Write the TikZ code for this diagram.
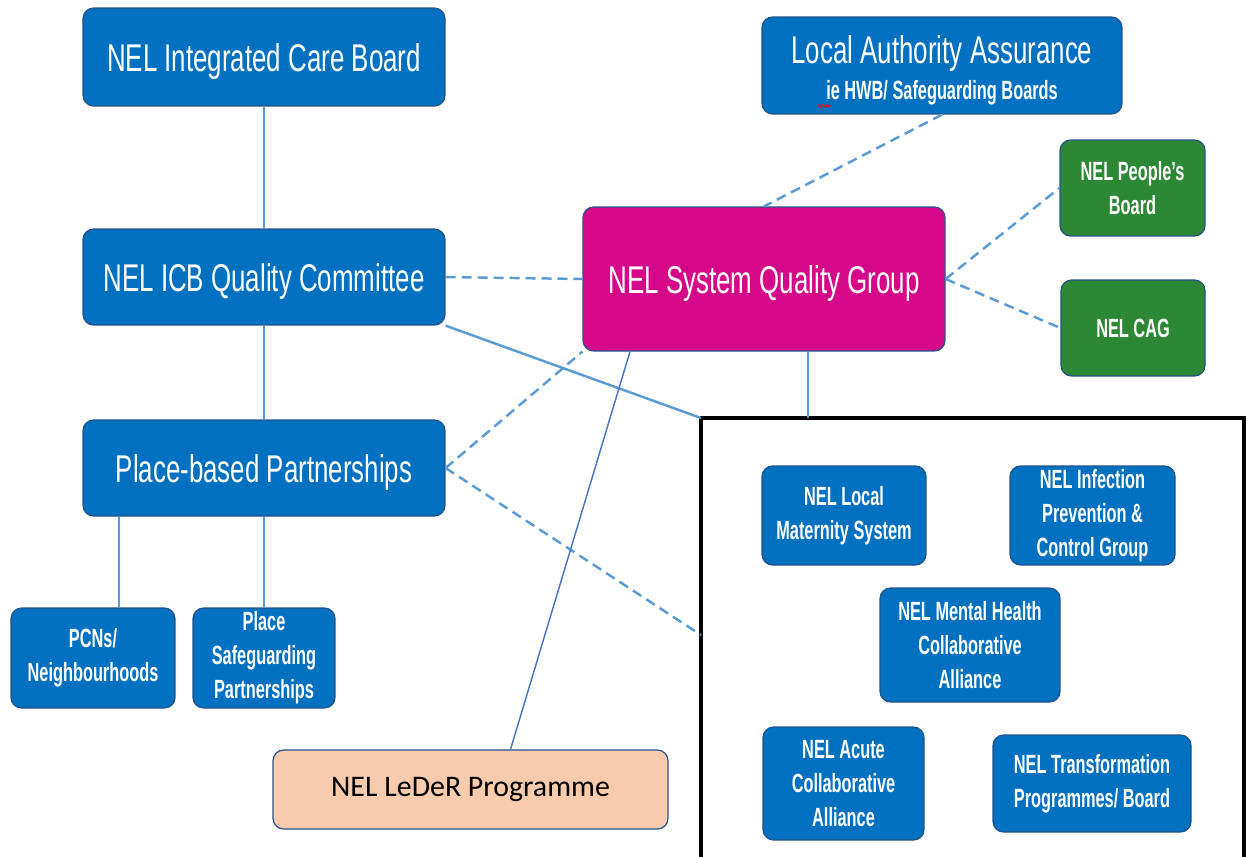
\documentclass[tikz,border=0pt]{standalone}
\usepackage{fontspec}
\setmainfont[FakeStretch=0.67, BoldFeatures={FakeStretch=0.62}]{Liberation Sans}
\newfontfamily\calibri{Carlito}
\usetikzlibrary{calc,decorations.pathmorphing}

\definecolor{boxblue}{RGB}{0,112,192}
\definecolor{boxedge}{RGB}{36,82,140}
\definecolor{sqmag}{RGB}{214,8,138}
\definecolor{boardgreen}{RGB}{44,136,52}
\definecolor{linkblue}{RGB}{91,155,213}
\definecolor{lederline}{RGB}{68,114,196}
\definecolor{lederfill}{RGB}{248,203,173}

\begin{document}
\begin{tikzpicture}[x=0.02cm,y=-0.02cm,
  box/.style={draw=boxedge, line width=0.7pt, rounded corners=6pt, fill=boxblue,
    text=white, align=center, inner sep=0pt},
  bigtext/.style={font=\fontsize{22}{25}\selectfont, text depth=0pt},
  smalltext/.style={font=\bfseries\fontsize{15}{19.3}\selectfont},
  link/.style={draw=linkblue, line width=0.9pt},
  heavylink/.style={draw=linkblue, line width=1.4pt},
  dlink/.style={draw=linkblue, line width=1.4pt, dash pattern=on 5.7pt off 3.4pt},
  lederlink/.style={draw=lederline, line width=0.8pt},
  groupframe/.style={draw=black, line width=1.8pt}
]
\clip (0,0) rectangle (1246,856);
\fill[white] (0,0) rectangle (1246,856);

% governance column
\node[box, bigtext, minimum width=7.24cm, minimum height=1.96cm] (icb) at (264,57) {NEL Integrated Care Board};
\node[box, bigtext, minimum width=7.24cm, minimum height=1.92cm] (qc) at (264,277) {NEL ICB Quality Committee};
\node[box, bigtext, minimum width=7.24cm, minimum height=1.92cm] (place) at (264,468) {Place-based Partnerships};
\node[box, smalltext, minimum width=3.28cm, minimum height=2.0cm] (pcn) at (93,658) {PCNs/\\Neighbourhoods};
\node[box, smalltext, minimum width=2.84cm, minimum height=2.0cm] (psg) at (264,658) {Place\\Safeguarding\\Partnerships};

% LeDeR programme
\node[draw=boxedge, line width=0.7pt, rounded corners=6pt, fill=lederfill, text=black,
  font=\calibri\fontsize{17}{20}\selectfont, minimum width=7.9cm, minimum height=1.58cm]
  (leder) at (470.5,789.5) {NEL LeDeR Programme};

% assurance and system group
\node[box, minimum width=7.2cm, minimum height=1.94cm] (laa) at (942,65.5) {};
\node[text=white, font=\fontsize{22}{25}\selectfont, anchor=base] (laat) at (942,63) {Local Authority Assurance};
\node[text=white, font=\bfseries\fontsize{15}{18}\selectfont, anchor=base] (laas) at (942,99) {ie HWB/ Safeguarding Boards};
\draw[red, line width=0.5pt, decorate, decoration={zigzag, segment length=2pt, amplitude=0.7pt}]
  (818,106) -- (831,106);

\node[box, bigtext, fill=sqmag, minimum width=7.24cm, minimum height=2.88cm] (sqg) at (764,279) {NEL System Quality Group};
\node[box, smalltext, fill=boardgreen, minimum width=2.9cm, minimum height=1.92cm] (people) at (1132.5,188) {NEL People's\\Board};
\node[box, smalltext, fill=boardgreen, minimum width=2.88cm, minimum height=1.92cm] (cag) at (1133,328) {NEL CAG};

% sub-groups frame
\coordinate (frameNW) at (701,418);
\coordinate (frameL) at (701,635);
\draw[groupframe] (frameNW) rectangle (1244,900);

\node[box, smalltext, minimum width=3.28cm, minimum height=1.98cm] (lms) at (844,515.5) {NEL Local\\Maternity System};
\node[box, smalltext, minimum width=3.3cm, minimum height=1.98cm] (ipc) at (1092.5,515.5) {NEL Infection\\Prevention \&\\Control Group};
\node[box, smalltext, minimum width=3.6cm, minimum height=2.28cm] (mh) at (970,645) {NEL Mental Health\\Collaborative\\Alliance};
\node[box, smalltext, minimum width=3.22cm, minimum height=2.26cm] (acute) at (843.5,783.5) {NEL Acute\\Collaborative\\Alliance};
\node[box, smalltext, minimum width=3.96cm, minimum height=1.94cm] (trans) at (1092,783.5) {NEL Transformation\\Programmes/ Board};

% attachment points that sit off the box centres
\coordinate (pcnTop) at ($(pcn.north)+(26,0)$);
\coordinate (sqgDown) at ($(sqg.south)+(44,0)$);
\coordinate (sqgLeft) at ($(sqg.south)+(-134,0)$);
\coordinate (lederTop) at ($(leder.north)+(40,0)$);

% connectors
\draw[link] (pcnTop |- place.south) -- (pcnTop);
\draw[link] (icb.south) -- (qc.north);
\draw[link] (qc.south) -- (place.north);
\draw[link] (place.south) -- (psg.north);
\draw[dlink] (qc.east) -- (sqg.west);
\draw[heavylink] (qc.south east) -- (frameNW);
\draw[dlink] (place.east) -- (sqg.south west);
\draw[dlink] (place.east) -- (frameL);
\draw[link] (sqgDown) -- (sqgDown |- frameNW);
\draw[lederlink] (sqgLeft) -- (lederTop);
\draw[dlink] (laa.south) -- (sqg.north);
\draw[dlink] (sqg.east) -- (people.west);
\draw[dlink] (sqg.east) -- (cag.west);
\end{tikzpicture}
\end{document}
